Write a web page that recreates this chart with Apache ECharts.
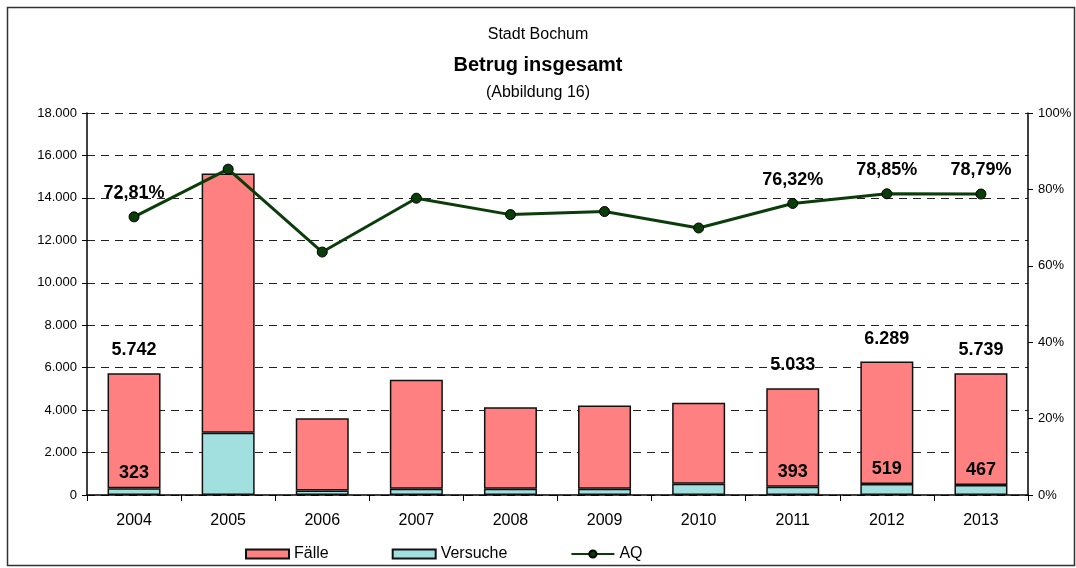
<!DOCTYPE html>
<html>
<head>
<meta charset="utf-8">
<script src="https://cdn.jsdelivr.net/npm/echarts@6/dist/echarts.min.js"></script>
<style>
  html, body { margin: 0; padding: 0; background: #fff; }
  #chart { width: 1076px; height: 568px; }
</style>
</head>
<body>
<div id="chart"></div>
<script>
// Betrug insgesamt, Stadt Bochum
var jahre = ['2004', '2005', '2006', '2007', '2008', '2009', '2010', '2011', '2012', '2013']
var faelleGesamt = [5742, 15150, 3615, 5430, 4140, 4220, 4345, 5033, 6289, 5739]
var versuche = [323, 2930, 210, 300, 300, 300, 530, 393, 519, 467]
var aq = [72.81, 85.3, 63.6, 77.7, 73.4, 74.2, 69.9, 76.32, 78.85, 78.79]

// which years get a printed value (as in the original)
var zeigeGesamt = [true, false, false, false, false, false, false, true, true, true]
var zeigeVersuche = [true, false, false, false, false, false, false, true, true, true]
var zeigeAq = [true, false, false, false, false, false, false, true, true, true]

var yTicksLinks = ['0', '2.000', '4.000', '6.000', '8.000', '10.000', '12.000', '14.000', '16.000', '18.000']

function fmt(n){
    return n.toString().replace(/\B(?=(\d{3})+(?!\d))/g, '.')
}

var faelleOben = []
for (var i = 0; i < jahre.length; i++){
    faelleOben.push(faelleGesamt[i] - versuche[i])
}

var chart = echarts.init(document.getElementById('chart'))

var lblStyle = { color: '#000', fontFamily: 'Liberation Sans, Arial, sans-serif', fontWeight: 'bold', fontSize: 18 }

var option = {
    animation: false,
    backgroundColor: '#fff',
    textStyle: { fontFamily: 'Liberation Sans, Arial, sans-serif' },
    title: [
        { text: 'Stadt Bochum', left: 'center', top: 22, textStyle: { fontSize: 16, fontWeight: 'normal', color: '#000' } },
        { text: 'Betrug insgesamt', left: 'center', top: 50, textStyle: { fontSize: 20, fontWeight: 'bold', color: '#000' } },
        { text: '(Abbildung 16)', left: 'center', top: 80, textStyle: { fontSize: 16, fontWeight: 'normal', color: '#000' } }
    ],
    graphic: [{
        type: 'rect',
        shape: { x: 7.5, y: 7.5, width: 1067, height: 558 },
        style: { fill: 'none', stroke: '#333', lineWidth: 1.5 },
        silent: true
    }],
    legend: {
        bottom: 1,
        left: 240,
        itemWidth: 43,
        itemHeight: 9,
        itemGap: 63,
        data: [{ name: 'Fälle', icon: 'rect' }, { name: 'Versuche', icon: 'rect' }, { name: 'AQ' }],
        textStyle: { fontSize: 16, color: '#000' }
    },
    grid: { left: 87, right: 48, top: 113, bottom: 73 },
    xAxis: {
        type: 'category',
        data: jahre,
        axisLine: { lineStyle: { color: '#000', width: 1.5 } },
        axisTick: { show: true, alignWithLabel: false, length: 6, lineStyle: { color: '#000' } },
        axisLabel: { fontSize: 16, color: '#000', margin: 18 }
    },
    yAxis: [{
        type: 'value',
        min: 0, max: 18000, interval: 2000,
        axisLine: { show: true, lineStyle: { color: '#000', width: 1.5 } },
        axisTick: { show: true, length: 5, lineStyle: { color: '#000' } },
        axisLabel: { fontSize: 13, color: '#000', margin: 10, formatter: function(v){ return yTicksLinks[v / 2000] } },
        splitLine: { show: true, lineStyle: { color: '#222', type: [8, 6], width: 1 } }
    }, {
        type: 'value',
        min: 0, max: 100, interval: 20,
        axisLine: { show: true, lineStyle: { color: '#000', width: 1.5 } },
        axisTick: { show: true, length: 5, lineStyle: { color: '#000' } },
        axisLabel: { fontSize: 13, color: '#000', margin: 10, formatter: '{value}%' },
        splitLine: { show: false }
    }],
    series: [{
        name: 'Versuche',
        type: 'bar',
        stack: 'b',
        barWidth: 53,
        itemStyle: { color: '#a2e0e0', borderColor: '#111', borderWidth: 1.5 },
        label: {
            show: true, position: 'top', distance: 6,
            formatter: function(p){ return zeigeVersuche[p.dataIndex] ? fmt(versuche[p.dataIndex]) : '' },
            ...lblStyle
        },
        data: versuche
    }, {
        name: 'Fälle',
        type: 'bar',
        stack: 'b',
        barWidth: 53,
        itemStyle: { color: '#ff8080', borderColor: '#111', borderWidth: 1.5 },
        label: {
            show: true, position: 'top', distance: 14,
            formatter: function(p){ return zeigeGesamt[p.dataIndex] ? fmt(faelleGesamt[p.dataIndex]) : '' },
            ...lblStyle
        },
        data: faelleOben
    }, {
        name: 'AQ',
        type: 'line',
        yAxisIndex: 1,
        symbol: 'circle',
        symbolSize: 10,
        lineStyle: { color: '#0a3d0a', width: 3 },
        itemStyle: { color: '#0a3d0a', borderColor: '#000', borderWidth: 1 },
        label: {
            show: true, position: 'top', distance: 9,
            formatter: function(p){ return zeigeAq[p.dataIndex] ? aq[p.dataIndex].toFixed(2).replace('.', ',') + '%' : '' },
            ...lblStyle
        },
        z: 5,
        data: aq
    }]
}

chart.setOption(option)
</script>
</body>
</html>
